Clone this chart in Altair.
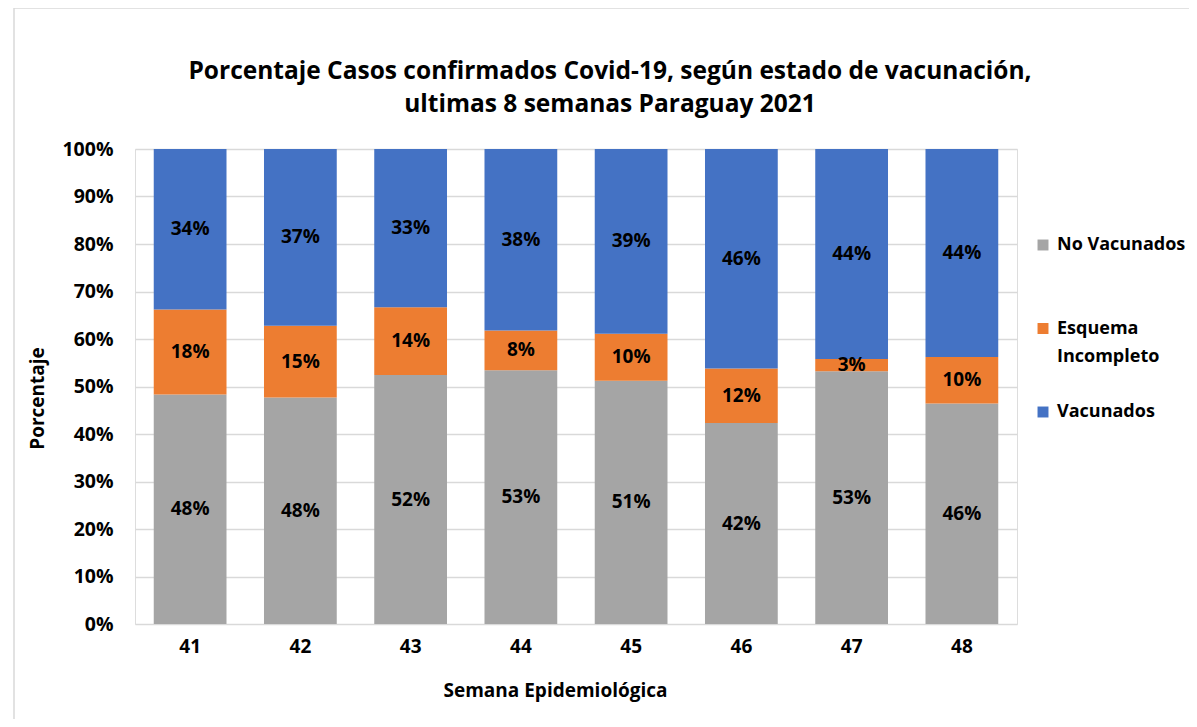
import altair as alt
import pandas as pd

weeks = ["41", "42", "43", "44", "45", "46", "47", "48"]
series = ["No Vacunados", "Esquema Incompleto", "Vacunados"]
no_vacunados = [48.3, 47.7, 52.4, 53.4, 51.2, 42.3, 53.2, 46.4]
esquema_incompleto = [17.9, 15.1, 14.3, 8.4, 9.9, 11.5, 2.6, 9.8]
vacunados = [33.8, 37.2, 33.3, 38.2, 38.9, 46.2, 44.2, 43.8]
y_ticks = [0, 10, 20, 30, 40, 50, 60, 70, 80, 90, 100]
colors = ["#A5A5A5", "#ED7D31", "#4472C4"]

rows = []
for i, s in enumerate(series):
    vals = [no_vacunados, esquema_incompleto, vacunados][i]
    for w, v in zip(weeks, vals):
        rows.append({"week": w, "serie": s, "idx": i, "v": v})
df = pd.DataFrame(rows)

FONT = "Open Sans"

base = alt.Chart(df).transform_stack(
    stack="v", groupby=["week"], as_=["y0", "y1"],
    sort=[alt.SortField("idx", order="ascending")]
).transform_calculate(
    mid="(datum.y0 + datum.y1) / 2",
    lab="round(datum.v) + '%'"
)

x_enc = alt.X(
    "week:N", sort=weeks,
    scale=alt.Scale(paddingInner=0.34, paddingOuter=0.17),
    axis=alt.Axis(
        title="Semana Epidemiológica", labelAngle=0, ticks=False, domain=False,
        labelFont=FONT, labelFontSize=19, labelFontWeight="bold", labelColor="#000000",
        labelPadding=13, titleFont=FONT, titleFontSize=19, titleFontWeight="bold",
        titleColor="#000000", titleX=420, titleY=66, titleBaseline="middle",
        titleAlign="center"
    ),
)

bars = base.mark_bar().encode(
    x=x_enc,
    y=alt.Y(
        "y0:Q",
        scale=alt.Scale(domain=[0, 100], nice=False),
        axis=alt.Axis(
            title="Porcentaje", values=y_ticks, labelExpr="datum.value + '%'",
            ticks=False, domain=False, grid=True, gridColor="#D9D9D9",
            gridWidth=1.3, labelFont=FONT, labelFontSize=19.5, labelFontWeight="bold",
            labelColor="#000000", labelPadding=22, titleFont=FONT, titleFontSize=19,
            titleFontWeight="bold", titleColor="#000000", titleX=-98, titleY=249,
            titleAngle=-90, titleBaseline="middle", titleAlign="center"
        ),
    ),
    y2="y1:Q",
    color=alt.Color(
        "serie:N",
        scale=alt.Scale(domain=series, range=colors),
        legend=alt.Legend(
            title=None, orient="none", legendX=899, legendY=87,
            symbolType="square", symbolSize=120, symbolStrokeWidth=0,
            labelFont=FONT, labelFontSize=18, labelFontWeight="bold",
            labelColor="#000000", rowPadding=37.5, labelOffset=5, gridAlign="all",
            labelExpr="datum.label == 'Esquema Incompleto' ? ['Esquema', 'Incompleto'] : datum.label",
            labelLimit=300
        ),
    ),
)

texts = base.mark_text(
    font=FONT, fontSize=19, fontWeight="bold", color="#000000", baseline="middle"
).encode(
    x=alt.X("week:N", sort=weeks),
    y=alt.Y("mid:Q"),
    text="lab:N",
)

frame = alt.Chart(pd.DataFrame({"a": [0]})).mark_rect(
    fill=None, stroke="#D9D9D9", strokeWidth=1.5
).encode(
    x=alt.value(-121), y=alt.value(-141), x2=alt.value(1200), y2=alt.value(800)
)

chart = alt.layer(frame, bars, texts).properties(
    width=882, height=475,
    title=alt.TitleParams(
        text=["Porcentaje Casos confirmados Covid-19, según estado de vacunación,",
              "ultimas 8 semanas Paraguay 2021"],
        font=FONT, fontSize=24.5, fontWeight="bold", color="#000000",
        anchor="middle", dx=34, dy=130, lineHeight=33, offset=20
    ),
    autosize=alt.AutoSizeParams(type="none"),
    padding={"left": 127, "top": 141, "right": 172, "bottom": 95},
).configure_view(stroke=None).configure(
    background="#FFFFFF",
    style={"guide-label": {"lineHeight": 28}},
)

chart.save("out.html", embed_options={"renderer": "svg", "actions": False})
